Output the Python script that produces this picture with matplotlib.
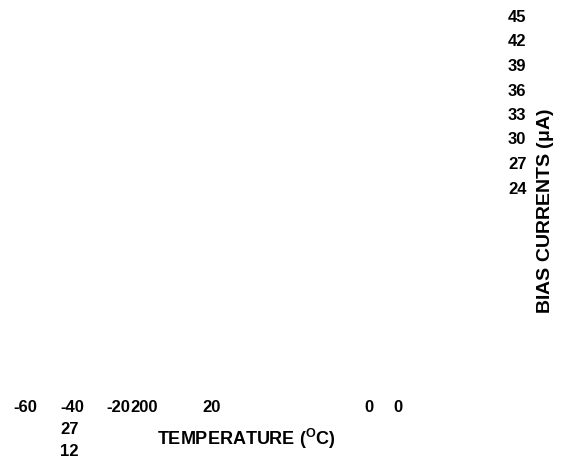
import matplotlib
matplotlib.use("Agg")
import matplotlib.pyplot as plt

plt.rcParams['font.family'] = ['Liberation Sans', 'DejaVu Sans']

# text fragments as they appear in the picture
x_tick_labels = ["-60", "-40", "-20", "200", "20", "0", "0"]
x_extra_labels = ["27", "12"]
y_tick_labels = ["45", "42", "39", "36", "33", "30", "27", "24"]
x_title = "TEMPERATURE ($\\mathregular{^{O}}$C)"
y_title = "BIAS CURRENTS ($\\mathregular{\\mu}$A)"

fig = plt.figure(figsize=(5.72, 4.63), dpi=100)
ax = fig.add_axes([0, 0, 1, 1])
ax.set_xlim(0, 572)
ax.set_ylim(463, 0)
ax.axis('off')

fs = 12
# bottom row, left edges in pixels
x_left = [13, 60, 106, 130, 202, 364, 393]
for lbl, x in zip(x_tick_labels, x_left):
    ax.text(x, 408, lbl, ha='left', va='center', fontsize=fs, fontweight='bold')

for lbl, y in zip(x_extra_labels, [430, 451]):
    ax.text(60, y, lbl, ha='left', va='center', fontsize=fs, fontweight='bold')

ax.text(157, 439, x_title, ha='left', va='center', fontsize=13, fontweight='bold')

# right column
for i, lbl in enumerate(y_tick_labels):
    ax.text(508, 17.5 + i * 24.5, lbl, ha='left', va='center', fontsize=fs, fontweight='bold')

ax.text(546, 211, y_title, ha='center', va='center', rotation=90,
        fontsize=14, fontweight='bold')

fig.savefig("out.png", dpi=100)
